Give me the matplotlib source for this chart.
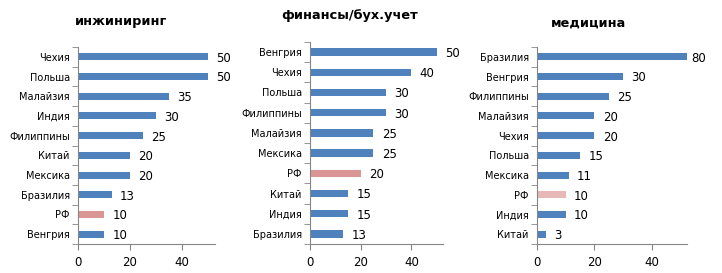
import matplotlib.pyplot as plt
import numpy as np

plt.rcParams['font.family'] = ['DejaVu Sans']

# data, top to bottom as shown
eng_labels = ['Чехия', 'Польша', 'Малайзия', 'Индия', 'Филиппины', 'Китай', 'Мексика', 'Бразилия', 'РФ', 'Венгрия']
eng_values = [50, 50, 35, 30, 25, 20, 20, 13, 10, 10]

fin_labels = ['Венгрия', 'Чехия', 'Польша', 'Филиппины', 'Малайзия', 'Мексика', 'РФ', 'Китай', 'Индия', 'Бразилия']
fin_values = [50, 40, 30, 30, 25, 25, 20, 15, 15, 13]

med_labels = ['Бразилия', 'Венгрия', 'Филиппины', 'Малайзия', 'Чехия', 'Польша', 'Мексика', 'РФ', 'Индия', 'Китай']
med_values = [80, 30, 25, 20, 20, 15, 11, 10, 10, 3]

titles = ['инжиниринг', 'финансы/бух.учет', 'медицина']

W, H = 722, 273
fig = plt.figure(figsize=(W / 100, H / 100), dpi=100)

blue = '#4F81BD'
spine = '#868686'

# (left, right, top, bottom) in pixels, xmax, rf colour, title centre (x, y)
panels = [
    (eng_labels, eng_values, (78, 215, 47, 244), 52.7, '#D99694', (121, 22)),
    (fin_labels, fin_values, (310, 443, 42, 244), 52.5, '#D99694', (350, 16)),
    (med_labels, med_values, (537, 687, 47, 244), 52.2, '#E6B9B8', (588, 23)),
]

for (labels, values, box, xmax, rf_col, tpos), title in zip(panels, titles):
    l, r, t, b = box
    ax = fig.add_axes([l / W, (H - b) / H, (r - l) / W, (b - t) / H])
    n = len(labels)
    y = np.arange(n)
    colors = [rf_col if c == 'РФ' else blue for c in labels]
    ax.barh(y, values, height=0.36, color=colors, zorder=2)
    ax.set_xlim(0, xmax)
    ax.set_ylim(n - 0.5, -0.5)
    for yi, v in zip(y, values):
        ax.annotate(str(v), (min(v, xmax), yi), xytext=(6 if v <= xmax else 3, -1),
                    textcoords='offset points', va='center', ha='left',
                    fontsize=8.5, annotation_clip=False)
    ax.set_yticks(y)
    ax.set_yticklabels(labels, fontsize=7)
    ax.set_yticks(np.arange(-0.5, n), minor=True)
    ax.tick_params(axis='y', which='major', length=0, pad=6)
    ax.tick_params(axis='y', which='minor', length=4, color=spine, direction='out')
    ax.set_xticks([0, 20, 40])
    ax.tick_params(axis='x', length=4, color=spine, labelsize=8.5, pad=5)
    for s in ['top', 'right']:
        ax.spines[s].set_visible(False)
    for s in ['left', 'bottom']:
        ax.spines[s].set_color(spine)
    fig.text(tpos[0] / W, 1 - tpos[1] / H, title, ha='center', va='center',
             fontsize=9.3, fontweight='bold')

fig.savefig('out.png', dpi=100)
